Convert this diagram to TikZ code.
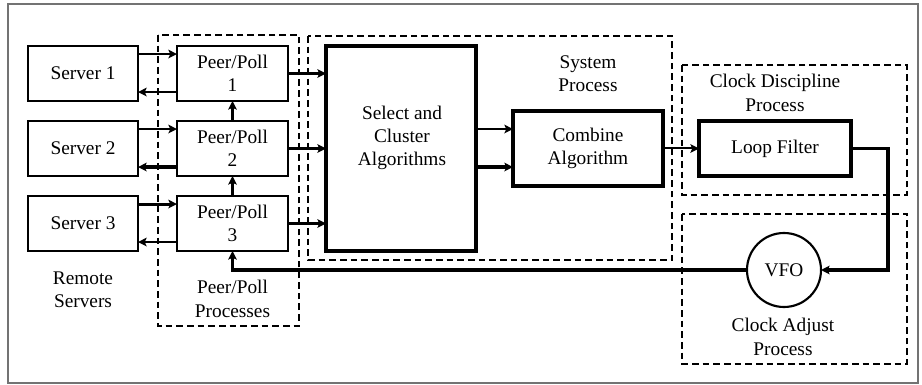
\documentclass[tikz,border=0pt]{standalone}
\usepackage{fontspec}
\setmainfont{Liberation Serif}
\usetikzlibrary{arrows.meta}
\begin{document}
\begin{tikzpicture}[x=0.75pt,y=-0.75pt,
  font=\fontsize{14.5}{17.5}\selectfont,
  every node/.style={inner sep=0pt,outer sep=0pt},
  thinbox/.style={draw,line width=1.1pt,align=center,minimum height=41.25pt},
  heavybox/.style={draw,line width=2.6pt,align=center},
  group/.style={draw,line width=1.9pt,dash pattern=on 5pt off 3pt},
  label/.style={align=center},
  arr/.style={line width=#1,-{Stealth[length=6.5pt,width=6.5pt,inset=1.5pt]}},
  arr/.default=1.5pt,
  feed/.style={line width=2.3pt}
]
\useasboundingbox (0,0) rectangle (922,385);
% outer frame
\draw[line width=1.1pt,black!55] (8,4) rectangle (918,383);

% process groups (dashed)
\draw[group] (158,35) rectangle (299,326);
\draw[group] (308,36) rectangle (672,260);
\draw[group] (682,65) rectangle (907,195);
\draw[group] (682,214) rectangle (907,364);

% remote servers
\node[thinbox,minimum width=82.5pt] (s1) at (83,73.5) {Server 1};
\node[thinbox,minimum width=82.5pt] (s2) at (83,148.5) {Server 2};
\node[thinbox,minimum width=82.5pt] (s3) at (83,223.5) {Server 3};
\node[label] (rs) at (83,290) {Remote\\Servers};

% peer/poll processes
\node[thinbox,minimum width=83.25pt] (p1) at (232.5,73.5) {Peer/Poll\\1};
\node[thinbox,minimum width=83.25pt] (p2) at (232.5,148.5) {Peer/Poll\\2};
\node[thinbox,minimum width=83.25pt] (p3) at (232.5,223.5) {Peer/Poll\\3};
\node[label] (pp) at (232.5,299) {Peer/Poll\\Processes};

% system process
\node[heavybox,minimum width=112.5pt,minimum height=153.75pt] (sel) at (401,148.5) {};
\node[label] (selt) at (402,138) {Select and\\Cluster\\Algorithms};
\node[heavybox,minimum width=112.5pt,minimum height=56.25pt] (comb) at (588,148.5) {Combine\\Algorithm};
\node[label] (sp) at (588,74) {System\\Process};

% clock discipline process
\node[heavybox,line width=2.4pt,minimum width=114pt,minimum height=41.25pt] (lf) at (775,148.5) {Loop Filter};
\node[label] (cd) at (775,93) {Clock Discipline\\Process};

% clock adjust process
\node[draw,circle,line width=1.6pt,minimum size=55.5pt] (vfo) at (784,270) {VFO};
\node[label] (ca) at (783,337) {Clock Adjust\\Process};

% server <-> peer exchanges
\draw[arr=1.5pt] ([yshift=14.6pt]s1.east) -- ([yshift=14.6pt]p1.west);
\draw[arr=1.5pt] ([yshift=-13.9pt]p1.west) -- ([yshift=-13.9pt]s1.east);
\draw[arr=1.5pt] ([yshift=14.6pt]s2.east) -- ([yshift=14.6pt]p2.west);
\draw[arr=2.4pt] ([yshift=-13.9pt]p2.west) -- ([yshift=-13.9pt]s2.east);
\draw[arr=2.3pt] ([yshift=14.6pt]s3.east) -- ([yshift=14.6pt]p3.west);
\draw[arr=1.5pt] ([yshift=-13.9pt]p3.west) -- ([yshift=-13.9pt]s3.east);

% peer chain
\draw[arr=2.4pt] (p3.north) -- (p2.south);
\draw[arr=2.4pt] (p2.north) -- (p1.south);

% peers to select and cluster
\draw[arr=2.5pt] (p1.east) -- (sel.west |- p1.east);
\draw[arr=1.6pt] (p2.east) -- (sel.west |- p2.east);
\draw[arr=1.8pt] (p3.east) -- (sel.west |- p3.east);

% select to combine
\coordinate (c1) at ([yshift=14.6pt]comb.west);
\coordinate (c2) at ([yshift=-13.9pt]comb.west);
\draw[arr=1.6pt] (sel.east |- c1) -- (c1);
\draw[arr=2.4pt] (sel.east |- c2) -- (c2);

% combine to loop filter
\draw[arr=1.5pt] (comb.east) -- (lf.west);

% feedback loop
\draw[feed,arr=2.3pt] (lf.east) -- ++(37,0) |- (vfo.east);
\draw[feed,arr=2.5pt] (vfo.west) -| (p3.south);
\end{tikzpicture}
\end{document}
